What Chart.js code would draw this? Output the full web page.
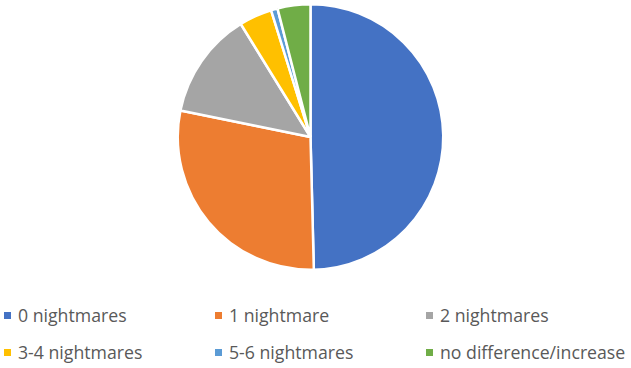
<!DOCTYPE html>
<html>
<head>
<meta charset="utf-8">
<script src="https://cdn.jsdelivr.net/npm/chart.js@4/dist/chart.umd.min.js"></script>
<style>
  html, body { margin: 0; padding: 0; background: #fff; }
  body { width: 631px; height: 368px; position: relative; overflow: hidden; font-family: "Open Sans", sans-serif; }
  #wrap { position: absolute; left: 0; top: 3px; width: 621px; height: 268px; }
  #legend { position: absolute; left: 4px; top: 302px; display: grid; grid-template-columns: 211px 211px 211px; row-gap: 11px; }
  .item { display: flex; align-items: center; height: 26px; font-size: 17.7px; color: #595959; white-space: nowrap; }
  .box { width: 7px; height: 7px; margin-right: 7px; flex: none; }
</style>
</head>
<body>
<div id="wrap"><canvas id="c"></canvas></div>
<div id="legend"></div>
<script>
const categories = ["0 nightmares", "1 nightmare", "2 nightmares", "3-4 nightmares", "5-6 nightmares", "no difference/increase"];
const shares = [49.6, 28.6, 13.0, 4.0, 0.8, 4.0];
const colors = ["#4472C4", "#ED7D31", "#A5A5A5", "#FFC000", "#5B9BD5", "#70AD47"];

new Chart(document.getElementById("c"), {
  type: "pie",
  data: {
    labels: categories,
    datasets: [{ data: shares, backgroundColor: colors, borderColor: "#fff", borderWidth: 2.5 }],
  },
  options: {
    responsive: true,
    maintainAspectRatio: false,
    animation: false,
    layout: { padding: 0 },
    plugins: { legend: { display: false }, tooltip: { enabled: false } },
  },
});

const legend = document.getElementById("legend");
categories.forEach((name, i) => {
  const item = document.createElement("div");
  item.className = "item";
  const box = document.createElement("span");
  box.className = "box";
  box.style.background = colors[i];
  item.appendChild(box);
  item.appendChild(document.createTextNode(name));
  legend.appendChild(item);
});
</script>
</body>
</html>
